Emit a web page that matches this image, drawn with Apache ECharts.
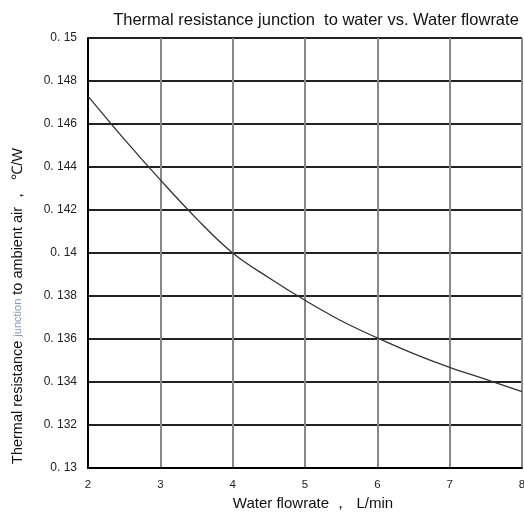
<!DOCTYPE html>
<html><head><meta charset="utf-8">
<script src="https://cdn.jsdelivr.net/npm/echarts@6/dist/echarts.min.js"></script>
<style>html,body{margin:0;padding:0;background:#fff}#c{width:524px;height:513px}</style>
</head><body><div id="c"></div>
<script>
var flowRate = [2, 2.5, 3, 3.5, 4, 4.5, 5, 5.5, 6, 6.5, 7, 7.5, 8];
var resistance = [0.1473, 0.1453, 0.1434, 0.1416, 0.1400, 0.13885, 0.1378, 0.13685, 0.13605, 0.13532, 0.13468, 0.13412, 0.13355];
var yTicks = ['0. 13','0. 132','0. 134','0. 136','0. 138','0. 14','0. 142','0. 144','0. 146','0. 148','0. 15'];

var chart = echarts.init(document.getElementById('c'));
var F = 'Liberation Sans, Arial, sans-serif';
chart.setOption({
  animation: false,
  title: {
    text: 'Thermal resistance junction  to water vs. Water flowrate',
    left: 311, top: 7, textAlign: 'center',
    textStyle: {fontFamily: F, fontSize: 16.5, fontWeight: 'normal', color: '#111'}
  },
  grid: {left: 88, right: 2, top: 38, bottom: 45, outerBoundsMode: 'none', containLabel: false},
  xAxis: {
    type: 'value', min: 2, max: 8, interval: 1,
    name: 'Water flowrate ，  L/min', nameLocation: 'middle', nameGap: 25,
    nameTextStyle: {fontFamily: F, fontSize: 15, color: '#111', padding: [0, 0, 0, 16]},
    axisLine: {show: true, lineStyle: {color: '#000', width: 2}},
    axisTick: {show: false},
    axisLabel: {fontFamily: F, fontSize: 11.5, color: '#222', margin: 11},
    splitLine: {show: true, lineStyle: {color: '#888', width: 2}}
  },
  yAxis: {
    type: 'value', min: 0.13, max: 0.15, interval: 0.002,
    name: '{a|Thermal resistance }{b|junction}{a| to ambient air ，  ℃/W}',
    nameLocation: 'middle', nameGap: 63, nameRotate: 90,
    nameTextStyle: {
      padding: [0, 106, 0, 0],
      rich: {
        a: {fontFamily: F, fontSize: 14.5, color: '#111'},
        b: {fontFamily: F, fontSize: 11, color: '#8899bb'}
      }
    },
    axisLine: {show: true, lineStyle: {color: '#000', width: 2}},
    axisTick: {show: false},
    axisLabel: {
      fontFamily: F, fontSize: 12, color: '#222', margin: 11,
      formatter: function (v) {
        var i = Math.round((v - 0.13) / 0.002);
        return yTicks[i];
      }
    },
    splitLine: {show: true, lineStyle: {color: '#222', width: 2}}
  },
  series: [{
    type: 'line', data: flowRate.map(function (x, i) { return [x, resistance[i]]; }),
    smooth: 0.4, symbol: 'none',
    lineStyle: {color: '#333', width: 1.3}
  }]
});
</script></body></html>
